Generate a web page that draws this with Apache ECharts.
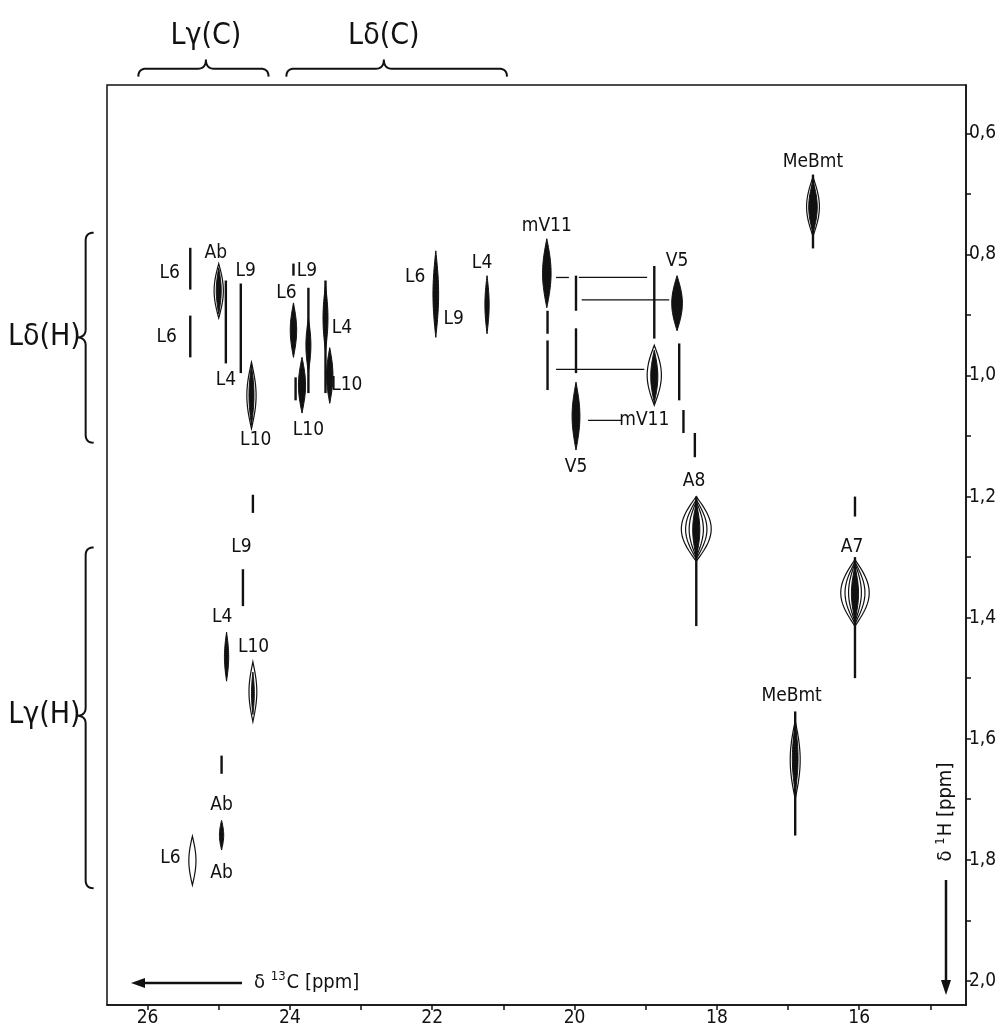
<!DOCTYPE html>
<html>
<head>
<meta charset="utf-8">
<script src="https://cdn.jsdelivr.net/npm/echarts@6/dist/echarts.min.js"></script>
<style>
  html, body { margin: 0; background: #fff; }
  #main { width: 1006px; height: 1031px; }
</style>
</head>
<body>
<div id="main"></div>
<script>
// axis ticks (ppm)
const cTicks = [15, 16, 17, 18, 19, 20, 21, 22, 23, 24, 25, 26];
const cLabels = [16, 18, 20, 22, 24, 26];
const hTicks = [0.6, 0.7, 0.8, 0.9, 1.0, 1.1, 1.2, 1.3, 1.4, 1.5, 1.6, 1.7, 1.8, 1.9, 2.0];
const hLabels = [0.6, 0.8, 1.0, 1.2, 1.4, 1.6, 1.8, 2.0];

// filled cross peaks: [13C ppm, 1H top, 1H bottom, half width in 13C ppm]
const solidPeaks = [
  [25.00, 0.822, 0.898, 0.035],
  [24.54, 0.983, 1.082, 0.035],
  [23.95, 0.880, 0.970, 0.045],
  [23.83, 0.970, 1.062, 0.05],
  [23.74, 0.905, 0.995, 0.035],
  [23.50, 0.850, 0.960, 0.035],
  [23.44, 0.954, 1.046, 0.045],
  [21.95, 0.794, 0.937, 0.04],
  [21.23, 0.835, 0.931, 0.03],
  [20.39, 0.774, 0.888, 0.06],
  [19.98, 1.011, 1.123, 0.055],
  [18.88, 0.958, 1.045, 0.05],
  [18.56, 0.835, 0.926, 0.075],
  [16.65, 0.678, 0.765, 0.06],
  [18.29, 1.210, 1.300, 0.05],
  [16.06, 1.315, 1.405, 0.05],
  [16.90, 1.575, 1.690, 0.04],
  [24.89, 1.424, 1.505, 0.03],
  [24.52, 1.490, 1.560, 0.02],
  [24.96, 1.735, 1.784, 0.03]
];

// open contour lines: [13C ppm, 1H top, 1H bottom, half width in 13C ppm]
const contours = [
  [25.00, 0.815, 0.905, 0.065],
  [24.54, 0.978, 1.088, 0.065],
  [18.88, 0.950, 1.049, 0.10],
  [16.65, 0.672, 0.770, 0.09],
  [18.29, 1.200, 1.307, 0.21],
  [18.29, 1.205, 1.303, 0.15],
  [18.29, 1.208, 1.300, 0.10],
  [16.06, 1.304, 1.414, 0.20],
  [16.06, 1.308, 1.410, 0.14],
  [16.06, 1.310, 1.407, 0.09],
  [16.90, 1.570, 1.700, 0.07],
  [24.52, 1.473, 1.572, 0.055],
  [25.37, 1.761, 1.842, 0.05]
];

// thin vertical traces: [13C ppm, 1H top, 1H bottom]
const traces = [
  [25.40, 0.789, 0.858], [25.40, 0.901, 0.970], [24.90, 0.843, 0.980],
  [24.69, 0.848, 0.996], [23.95, 0.815, 0.835], [23.74, 0.855, 1.029],
  [23.92, 1.003, 1.041], [23.50, 0.843, 1.029], [20.38, 0.893, 0.931],
  [20.38, 0.942, 1.024], [19.98, 0.835, 0.893], [19.98, 0.922, 0.996],
  [18.88, 0.819, 0.939], [18.53, 0.947, 1.041], [18.47, 1.057, 1.095],
  [18.31, 1.095, 1.135], [18.29, 1.200, 1.414], [16.06, 1.200, 1.233],
  [16.06, 1.300, 1.500], [16.65, 0.668, 0.790], [16.90, 1.555, 1.760],
  [24.52, 1.197, 1.227], [24.66, 1.320, 1.381], [24.96, 1.628, 1.658]
];

// horizontal connectors: [1H ppm, 13C from, 13C to]
const links = [
  [0.838, 20.26, 20.08], [0.838, 19.94, 18.98], [0.875, 19.90, 18.67],
  [0.990, 20.26, 19.02], [1.074, 19.81, 19.33]
];

// assignments: [text, 13C ppm, 1H ppm]
const assignments = [
  ['L6', 25.69, 0.830], ['L6', 25.73, 0.937], ['Ab', 25.04, 0.797],
  ['L9', 24.62, 0.827], ['L4', 24.90, 1.008], ['L10', 24.48, 1.107],
  ['L6', 24.05, 0.863], ['L9', 23.76, 0.827], ['L10', 23.74, 1.090],
  ['L4', 23.27, 0.921], ['L10', 23.20, 1.016], ['L6', 22.24, 0.838],
  ['L9', 21.70, 0.906], ['L4', 21.30, 0.815], ['mV11', 20.39, 0.753],
  ['V5', 19.98, 1.151], ['V5', 18.56, 0.811], ['mV11', 19.02, 1.074],
  ['A8', 18.32, 1.174], ['A7', 16.10, 1.284], ['MeBmt', 16.65, 0.648],
  ['MeBmt', 16.95, 1.530], ['L9', 24.68, 1.283], ['L4', 24.95, 1.399],
  ['L10', 24.51, 1.449], ['Ab', 24.96, 1.710], ['L6', 25.68, 1.797],
  ['Ab', 24.96, 1.822]
];

// region braces along 13C: [from, to, apex, 1H level]
const carbonBraces = [[26.13, 24.30, 25.18, 0.493], [24.05, 20.95, 22.68, 0.493]];
// region braces along 1H: [from, to, apex, 13C level]
const protonBraces = [[0.764, 1.111, 0.937, 26.87], [1.284, 1.847, 1.562, 26.87]];
// brace titles: [text, 13C ppm, 1H ppm]
const braceTitles = [
  ['Lγ(C)', 25.18, 0.44], ['Lδ(C)', 22.68, 0.44],
  ['Lδ(H)', 27.45, 0.937], ['Lγ(H)', 27.45, 1.562]
];

const FONT = "'Liberation Sans Narrow', 'DejaVu Sans Condensed', 'Liberation Sans', sans-serif";

function lens(api, c, t, b, hw) {
  const p0 = api.coord([c, t]);
  const p1 = api.coord([c, b]);
  const w = Math.abs(api.size([hw, 0])[0]);
  const n = 24;
  const pts = [];
  for (let i = 0; i <= n; i++) {
    const s = i / n;
    pts.push([p0[0] + w * Math.sin(Math.PI * s), p0[1] + (p1[1] - p0[1]) * s]);
  }
  for (let i = n - 1; i > 0; i--) {
    const s = i / n;
    pts.push([p0[0] - w * Math.sin(Math.PI * s), p0[1] + (p1[1] - p0[1]) * s]);
  }
  return pts;
}

function quad(out, a, b, c) {
  for (let i = 1; i <= 8; i++) {
    const t = i / 8;
    out.push([
      (1 - t) * (1 - t) * a[0] + 2 * t * (1 - t) * b[0] + t * t * c[0],
      (1 - t) * (1 - t) * a[1] + 2 * t * (1 - t) * b[1] + t * t * c[1]
    ]);
  }
}

const chart = echarts.init(document.getElementById('main'));

const option = {
  animation: false,
  backgroundColor: '#fff',
  grid: {
    left: 107, right: 40, top: 85, bottom: 26,
    show: true, borderColor: '#111', borderWidth: 1.5, backgroundColor: 'transparent'
  },
  xAxis: {
    type: 'value',
    inverse: true,
    min: 14.5,
    max: 26.57,
    axisLine: { lineStyle: { color: '#111', width: 1.5 } },
    axisTick: { customValues: cTicks, length: 5, lineStyle: { color: '#111', width: 1.5 } },
    axisLabel: {
      customValues: cLabels, color: '#111', fontSize: 19, fontFamily: FONT, margin: 4,
      formatter: v => String(Math.round(v))
    },
    splitLine: { show: false }
  },
  yAxis: {
    type: 'value',
    position: 'right',
    inverse: true,
    min: 0.52,
    max: 2.04,
    axisLine: { lineStyle: { color: '#111', width: 1.5 } },
    axisTick: { customValues: hTicks, length: 5, lineStyle: { color: '#111', width: 1.5 } },
    axisLabel: {
      customValues: hLabels, color: '#111', fontSize: 19, fontFamily: FONT, margin: 3,
      formatter: v => v.toFixed(1).replace('.', ',')
    },
    splitLine: { show: false }
  },
  series: [
    {
      // open contour outlines
      type: 'custom',
      data: contours,
      renderItem: (params, api) => ({
        type: 'polygon',
        shape: { points: lens(api, api.value(0), api.value(1), api.value(2), api.value(3)) },
        style: { fill: 'none', stroke: '#111', lineWidth: 1.2 }
      }),
      z: 2
    },
    {
      // filled peak cores
      type: 'custom',
      data: solidPeaks,
      renderItem: (params, api) => ({
        type: 'polygon',
        shape: { points: lens(api, api.value(0), api.value(1), api.value(2), api.value(3)) },
        style: { fill: '#111', stroke: '#111', lineWidth: 1 }
      }),
      z: 3
    },
    {
      type: 'custom',
      data: traces,
      renderItem: (params, api) => {
        const a = api.coord([api.value(0), api.value(1)]);
        const b = api.coord([api.value(0), api.value(2)]);
        return {
          type: 'line',
          shape: { x1: a[0], y1: a[1], x2: b[0], y2: b[1] },
          style: { stroke: '#111', lineWidth: 2.4 }
        };
      },
      z: 3
    },
    {
      type: 'custom',
      data: links,
      renderItem: (params, api) => {
        const a = api.coord([api.value(1), api.value(0)]);
        const b = api.coord([api.value(2), api.value(0)]);
        return {
          type: 'line',
          shape: { x1: a[0], y1: a[1], x2: b[0], y2: b[1] },
          style: { stroke: '#111', lineWidth: 1.3 }
        };
      },
      z: 3
    },
    {
      type: 'custom',
      data: assignments.map(d => [d[1], d[2]]),
      renderItem: (params, api) => {
        const p = api.coord([api.value(0), api.value(1)]);
        return {
          type: 'text',
          x: p[0], y: p[1],
          style: {
            text: assignments[params.dataIndex][0], fill: '#111',
            font: '19px ' + FONT, align: 'center', verticalAlign: 'middle'
          }
        };
      },
      z: 4
    },
    {
      type: 'custom',
      data: carbonBraces,
      renderItem: (params, api) => {
        const h = api.value(3);
        const xa = api.coord([api.value(0), h])[0];
        const xb = api.coord([api.value(1), h])[0];
        const xm = api.coord([api.value(2), h])[0];
        const y = api.coord([api.value(2), h])[1];
        const xl = Math.min(xa, xb), xr = Math.max(xa, xb);
        const d = 8, a = 9;
        const pts = [[xl, y + d]];
        quad(pts, [xl, y + d], [xl, y], [xl + d, y]);
        pts.push([xm - d, y]);
        quad(pts, [xm - d, y], [xm, y], [xm, y - a]);
        quad(pts, [xm, y - a], [xm, y], [xm + d, y]);
        pts.push([xr - d, y]);
        quad(pts, [xr - d, y], [xr, y], [xr, y + d]);
        return { type: 'polyline', shape: { points: pts }, style: { fill: 'none', stroke: '#111', lineWidth: 2 } };
      }
    },
    {
      type: 'custom',
      data: protonBraces,
      renderItem: (params, api) => {
        const c = api.value(3);
        const ya = api.coord([c, api.value(0)])[1];
        const yb = api.coord([c, api.value(1)])[1];
        const ym = api.coord([c, api.value(2)])[1];
        const x = api.coord([c, api.value(2)])[0];
        const d = 8, a = 9;
        const pts = [[x + d, ya]];
        quad(pts, [x + d, ya], [x, ya], [x, ya + d]);
        pts.push([x, ym - d]);
        quad(pts, [x, ym - d], [x, ym], [x - a, ym]);
        quad(pts, [x - a, ym], [x, ym], [x, ym + d]);
        pts.push([x, yb - d]);
        quad(pts, [x, yb - d], [x, yb], [x + d, yb]);
        return { type: 'polyline', shape: { points: pts }, style: { fill: 'none', stroke: '#111', lineWidth: 2 } };
      }
    },
    {
      type: 'custom',
      data: braceTitles.map(d => [d[1], d[2]]),
      renderItem: (params, api) => {
        const p = api.coord([api.value(0), api.value(1)]);
        return {
          type: 'text',
          x: p[0], y: p[1],
          style: {
            text: braceTitles[params.dataIndex][0], fill: '#111',
            font: '30px ' + FONT, align: 'center', verticalAlign: 'middle'
          }
        };
      }
    }
  ],
  graphic: [
    // 13C axis title with arrow
    { type: 'line', shape: { x1: 242, y1: 983, x2: 140, y2: 983 }, style: { stroke: '#111', lineWidth: 2.5 } },
    { type: 'polygon', shape: { points: [[131, 983], [145, 978], [145, 988]] }, style: { fill: '#111' } },
    {
      type: 'text', left: 254, top: 970,
      style: {
        text: '{a|δ }{b|13}{a|C [ppm]}',
        rich: {
          a: { font: '20px ' + FONT, fill: '#111', verticalAlign: 'bottom' },
          b: { font: '13px ' + FONT, fill: '#111', verticalAlign: 'top', padding: [0, 1, 10, 0] }
        }
      }
    },
    // 1H axis title with arrow
    { type: 'line', shape: { x1: 946, y1: 880, x2: 946, y2: 985 }, style: { stroke: '#111', lineWidth: 2.5 } },
    { type: 'polygon', shape: { points: [[946, 995], [941, 980], [951, 980]] }, style: { fill: '#111' } },
    {
      type: 'text', x: 946, y: 812, rotation: Math.PI / 2,
      style: {
        text: '{a|δ }{b|1}{a|H [ppm]}', align: 'center', verticalAlign: 'middle',
        rich: {
          a: { font: '20px ' + FONT, fill: '#111' },
          b: { font: '13px ' + FONT, fill: '#111', padding: [0, 1, 10, 0] }
        }
      }
    }
  ]
};

chart.setOption(option);
</script>
</body>
</html>
